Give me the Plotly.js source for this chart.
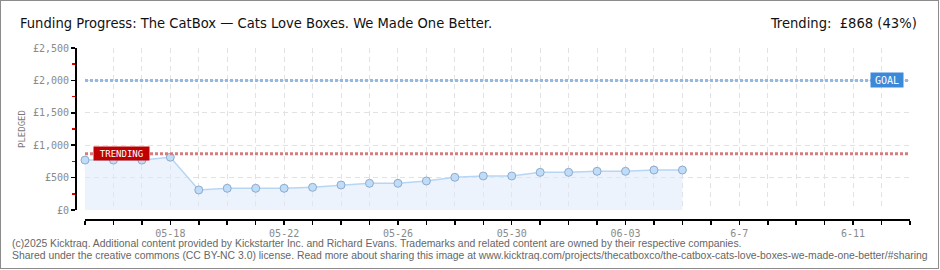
<!DOCTYPE html>
<html>
<head>
<meta charset="utf-8">
<script src="https://cdn.plot.ly/plotly-3.0.1.min.js"></script>
<style>
  html, body { margin: 0; padding: 0; background: #fff; }
  #wrap { position: relative; width: 940px; height: 270px; overflow: hidden; }
  #chart { position: absolute; left: 0; top: 0; width: 940px; height: 270px; }
  #frame { position: absolute; left: 0; top: 0; width: 937px; height: 267px; border: 1px solid #8c8c8c; pointer-events: none; }
</style>
</head>
<body>
<div id="wrap"><div id="chart"></div><div id="frame"></div></div>
<script>
// ---- data ----
const projectName = "The CatBox \u2014 Cats Love Boxes. We Made One Better.";
const dates = ["2025-05-15","2025-05-16","2025-05-17","2025-05-18","2025-05-19","2025-05-20",
               "2025-05-21","2025-05-22","2025-05-23","2025-05-24","2025-05-25","2025-05-26",
               "2025-05-27","2025-05-28","2025-05-29","2025-05-30","2025-05-31","2025-06-01",
               "2025-06-02","2025-06-03","2025-06-04","2025-06-05"];
const pledged = [770, 770, 770, 815, 309, 335, 335, 335, 350, 386, 412, 412,
                 448, 504, 525, 525, 581, 581, 597, 597, 617, 617];
const goal = 2000;
const trending = 868;
const rangeStart = "2025-05-15";
const rangeEnd = "2025-06-13";
const tickDates = ["2025-05-18","2025-05-22","2025-05-26","2025-05-30","2025-06-03","2025-06-07","2025-06-11"];
const tickLabels = ["05-18","05-22","05-26","05-30","06-03","6-7","6-11"];
const footer1 = "(c)2025 Kicktraq. Additional content provided by Kickstarter Inc. and Richard Evans. Trademarks and related content are owned by their respective companies.";
const footer2 = "Shared under the creative commons (CC BY-NC 3.0) license. Read more about sharing this image at www.kicktraq.com/projects/thecatboxco/the-catbox-cats-love-boxes-we-made-one-better/#sharing";

// ---- geometry helpers (pixel -> paper) ----
const M = {l: 76, r: 30, t: 48, b: 50};
const PW = 940 - M.l - M.r, PH = 270 - M.t - M.b;
const px = v => (v - M.l) / PW;
const py = v => (270 - M.b - v) / PH;

const gridColor = "#e2e2e2";
const gridDash = "5px,4px";
const tickFont = {family: "DejaVu Sans Mono, monospace", size: 10, color: "#8a8a8a"};
const headFont = {family: "DejaVu Sans Condensed, DejaVu Sans", size: 14.6, color: "#111"};
const footFont = {family: "Liberation Sans, Arial", size: 10.4, color: "#666"};

const trace = {
  x: dates, y: pledged, type: "scatter", mode: "lines+markers",
  fill: "tozeroy", fillcolor: "rgba(220,234,250,0.55)",
  line: {color: "#b7d6f4", width: 1.5},
  marker: {size: 8, color: "#bfdcf8", line: {color: "#8faacb", width: 1}},
  cliponaxis: false, hoverinfo: "skip"
};

const pct = Math.round(trending / goal * 100);

const layout = {
  width: 940, height: 270,
  margin: {l: M.l, r: M.r, t: M.t, b: M.b, pad: 0},
  paper_bgcolor: "#fff", plot_bgcolor: "rgba(0,0,0,0)",
  showlegend: false,
  title: {
    text: "Funding Progress: " + projectName,
    font: headFont,
    xref: "container", yref: "container", x: 20 / 940, xanchor: "left", y: 1 - 23 / 270, yanchor: "middle"
  },
  xaxis: {
    type: "date", domain: [9 / PW, 1], anchor: "free", position: 0,
    range: [rangeStart, rangeEnd], fixedrange: true,
    tickmode: "array", tickvals: tickDates, ticktext: tickLabels,
    ticks: "outside", ticklen: 4, tickwidth: 1.5, tickcolor: "#000",
    showline: true, linecolor: "#000", linewidth: 2,
    showgrid: true, gridcolor: gridColor, griddash: gridDash, gridwidth: 1,
    minor: {tick0: rangeStart, dtick: 86400000, ticks: "outside", ticklen: 4, tickwidth: 1.5, tickcolor: "#000",
            showgrid: true, gridcolor: gridColor, griddash: gridDash, gridwidth: 1},
    tickfont: tickFont, zeroline: false
  },
  yaxis: {
    domain: [10 / PH, 1], anchor: "free", position: 0,
    range: [0, 2500], fixedrange: true,
    tickmode: "linear", tick0: 0, dtick: 500, tickprefix: "\u00a3", tickformat: ",d",
    ticks: "outside", ticklen: 4, tickwidth: 1.5, tickcolor: "#000",
    showline: true, linecolor: "#000", linewidth: 2,
    showgrid: true, gridcolor: gridColor, griddash: gridDash, gridwidth: 1,
    minor: {tick0: 0, dtick: 250, ticks: "outside", ticklen: 3, tickwidth: 1.5, tickcolor: "#e00000", showgrid: false},
    tickfont: tickFont, zeroline: false
  },
  shapes: [
    {type: "line", xref: "x", yref: "y", x0: rangeStart, x1: rangeEnd, y0: goal, y1: goal,
     line: {color: "#93b8e3", width: 3, dash: "3px,2px"}},
    {type: "line", xref: "x", yref: "y", x0: rangeStart, x1: rangeEnd, y0: trending, y1: trending,
     line: {color: "#d57d7e", width: 3, dash: "3px,2px"}}
  ],
  annotations: [
    {text: "GOAL", xref: "x", yref: "y", x: rangeEnd, y: goal, xanchor: "right", yanchor: "middle", xshift: -6,
     showarrow: false, bgcolor: "#3c89d9", width: 30, height: 12, borderpad: 1,
     font: {family: "DejaVu Sans Mono, monospace", size: 10, color: "#fff"}},
    {text: "TRENDING", xref: "x", yref: "y", x: rangeStart, y: trending, xanchor: "left", yanchor: "middle", xshift: 8,
     showarrow: false, bgcolor: "#c00000", width: 53, height: 11, borderpad: 1,
     font: {family: "DejaVu Sans Mono, monospace", size: 9, color: "#fff"}},
    {text: "Trending:  \u00a3" + trending + " (" + pct + "%)", xref: "paper", yref: "paper",
     x: px(919), y: py(23), xanchor: "right", yanchor: "middle", showarrow: false,
     font: headFont},
    {text: "PLEDGED", xref: "paper", yref: "paper", x: px(22), y: py(129), textangle: -90,
     xanchor: "center", yanchor: "middle", showarrow: false,
     font: {family: "DejaVu Sans Mono, monospace", size: 9, color: "#777"}},
    {text: footer1, xref: "paper", yref: "paper", x: px(10), y: py(243), xanchor: "left", yanchor: "middle",
     showarrow: false, font: footFont},
    {text: footer2, xref: "paper", yref: "paper", x: px(10), y: py(255), xanchor: "left", yanchor: "middle",
     showarrow: false, font: footFont}
  ]
};

Plotly.newPlot("chart", [trace], layout, {staticPlot: true, displayModeBar: false});
</script>
</body>
</html>
